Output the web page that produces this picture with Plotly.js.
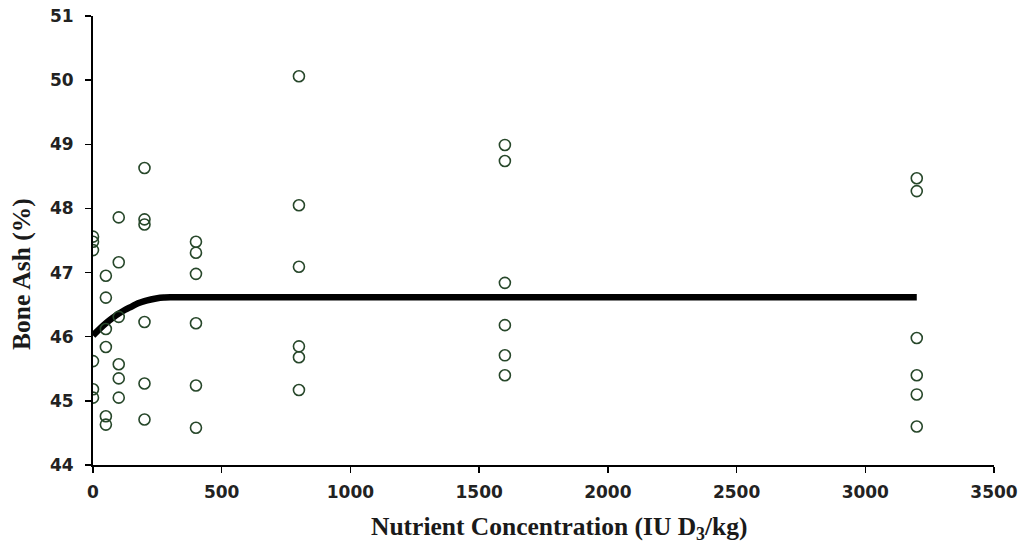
<!DOCTYPE html>
<html>
<head>
<meta charset="utf-8">
<script src="https://cdn.plot.ly/plotly-3.0.1.min.js"></script>
<style>html,body{margin:0;padding:0;background:#fff;}#chart{width:1028px;height:548px;}</style>
</head>
<body>
<div id="chart"></div>
<script>
// Observed data: D3 level (IU/kg) and bone ash (%)
const doseLevels = [0, 50, 100, 200, 400, 800, 1600, 3200];
const ash0    = [47.56, 47.48, 47.35, 45.62, 45.18, 45.05];
const ash50   = [46.95, 46.61, 46.12, 45.84, 44.76, 44.63];
const ash100  = [47.86, 47.16, 46.31, 45.57, 45.35, 45.05];
const ash200  = [48.63, 47.83, 47.75, 46.23, 45.27, 44.71];
const ash400  = [47.48, 47.31, 46.98, 46.21, 45.24, 44.58];
const ash800  = [50.06, 48.05, 47.09, 45.85, 45.68, 45.17];
const ash1600 = [48.99, 48.74, 46.84, 46.18, 45.71, 45.40];
const ash3200 = [48.47, 48.27, 45.98, 45.40, 45.10, 44.60];
const ashByDose = [ash0, ash50, ash100, ash200, ash400, ash800, ash1600, ash3200];

// Fitted response curve
const fitX = [0, 25, 50, 75, 100, 125, 150, 175, 200, 225, 250, 275, 300, 3200];
const fitY = [46.02, 46.12, 46.21, 46.29, 46.36, 46.42, 46.47, 46.52, 46.555, 46.58, 46.60, 46.61, 46.615, 46.615];

// Axis ticks
const xTicks = [0, 500, 1000, 1500, 2000, 2500, 3000, 3500];
const yTicks = [44, 45, 46, 47, 48, 49, 50, 51];

// Axis titles
const xTitle = 'Nutrient Concentration (IU D<sub>3</sub>/kg)';
const yTitle = 'Bone Ash (%)';

const px = [], py = [];
doseLevels.forEach((d, i) => { ashByDose[i].forEach(v => { px.push(d); py.push(v); }); });

const traces = [
  {
    x: fitX, y: fitY, type: 'scatter', mode: 'lines',
    line: {color: '#000000', width: 6.5, shape: 'spline', smoothing: 1},
    hoverinfo: 'skip', showlegend: false
  },
  {
    x: px, y: py, type: 'scatter', mode: 'markers',
    marker: {symbol: 'circle-open', size: 11, color: '#27472a', line: {width: 1.6, color: '#27472a'}},
    showlegend: false
  }
];

const tickFont = {family: 'DejaVu Sans', size: 17, color: '#222222', weight: 'bold'};
const titleFont = {family: 'Liberation Serif', size: 25.5, color: '#1a1a1a', weight: 'bold'};

const layout = {
  width: 1028, height: 548,
  paper_bgcolor: '#ffffff', plot_bgcolor: '#ffffff',
  margin: {l: 93, r: 34, t: 16, b: 83},
  showlegend: false,
  xaxis: {
    range: [0, 3500], tickvals: xTicks, ticktext: xTicks.map(String),
    showgrid: false, zeroline: false, showline: true, linecolor: '#000', linewidth: 2,
    ticks: 'outside', ticklen: 6, tickwidth: 1.5, tickcolor: '#000',
    tickfont: tickFont, ticklabelstandoff: 5
  },
  yaxis: {
    range: [44, 51], tickvals: yTicks, ticktext: yTicks.map(String),
    showgrid: false, zeroline: false, showline: true, linecolor: '#000', linewidth: 2,
    ticks: 'outside', ticklen: 6, tickwidth: 1.5, tickcolor: '#000',
    tickfont: tickFont, ticklabelstandoff: 8
  },
  annotations: [
    {text: xTitle, xref: 'paper', yref: 'paper', x: 0.5178, y: -0.1403,
     xanchor: 'center', yanchor: 'middle', showarrow: false, font: titleFont},
    {text: yTitle, xref: 'paper', yref: 'paper', x: -0.0789, y: 0.4254,
     xanchor: 'center', yanchor: 'middle', textangle: -90, showarrow: false, font: titleFont}
  ]
};

Plotly.newPlot('chart', traces, layout, {displayModeBar: false, staticPlot: true});
</script>
</body>
</html>
